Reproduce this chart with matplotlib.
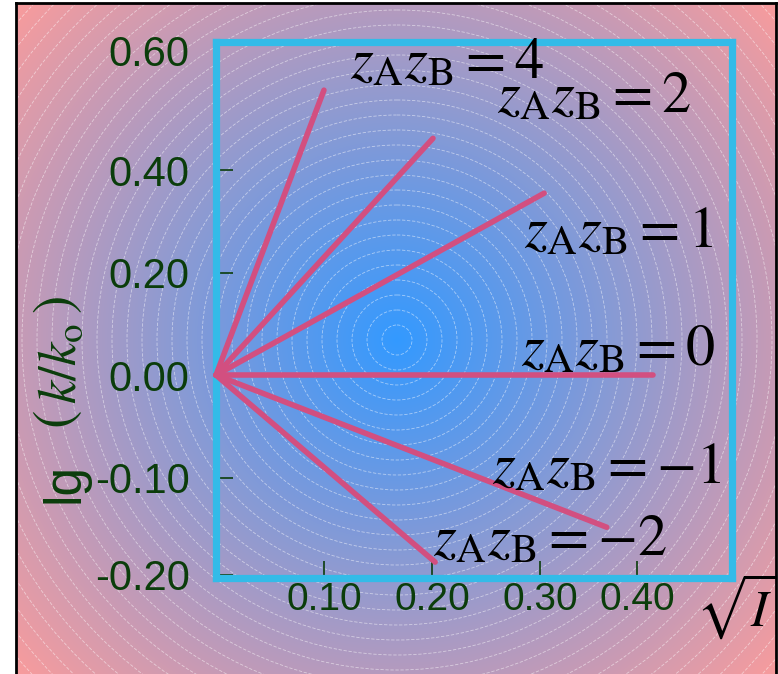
import numpy as np
import matplotlib.pyplot as plt
from matplotlib.patches import Circle
from matplotlib.lines import Line2D

plt.rcParams['mathtext.fontset'] = 'stix'

W, H = 778, 674

# end points of the lg(k/k0) vs sqrt(I) lines, one per charge product
z_products = [4, 2, 1, 0, -1, -2]
x_end = [0.100, 0.201, 0.304, 0.405, 0.362, 0.203]
y_end = [0.556, 0.462, 0.355, 0.0, -0.297, -0.365]

# where each "zAzB = n" caption sits (left edge, baseline)
label_x = [0.124, 0.260, 0.285, 0.283, 0.256, 0.201]
label_y = [0.580, 0.513, 0.250, 0.0195, -0.211, -0.351]

x_tick_pos = [0.10, 0.20, 0.30, 0.39]
x_tick_labels = ['0.10', '0.20', '0.30', '0.40']
y_tick_pos = [-0.39, -0.2, 0.0, 0.2, 0.4, 0.634]
y_tick_labels = ['-0.20', '-0.10', '0.00', '0.20', '0.40', '0.60']

green = '#0b3d0b'
line_color = '#d24f80'
frame_color = '#33bbe8'


def fx(px):
    return px / W


def fy(py):
    return 1 - py / H


fig = plt.figure(figsize=(W / 100, H / 100), dpi=100)

# radial blue -> salmon backdrop with dashed rings
bg = fig.add_axes([fx(16), 0, (776 - 16) / W, (674 - 3) / H])
yy, xx = np.mgrid[3:674, 16:776] + 0.5
r = np.hypot(xx - 397, yy - 340)
t = np.clip(r / 510, 0, 1)[..., None]
inner = np.array([0.20, 0.60, 1.0])
outer = np.array([0.98, 0.61, 0.61])
bg.imshow(inner * (1 - t) + outer * t, extent=(16, 776, 674, 3),
          aspect='auto', interpolation='bilinear')
for rad in np.arange(15, 540, 15):
    bg.add_patch(Circle((397, 340), rad, fill=False, ec='white', lw=0.6,
                        ls=(0, (4, 2)), alpha=0.5))
bg.set_xlim(16, 776)
bg.set_ylim(674, 3)
bg.axis('off')

# black frame round the picture (no bottom edge)
for xs, ys in [([16, 16], [3, 674]), ([16, 776], [3, 3]), ([776, 776], [3, 674])]:
    fig.add_artist(Line2D([fx(v) for v in xs], [fy(v) for v in ys],
                          color='black', lw=2, transform=fig.transFigure))

ax = fig.add_axes([fx(216), fy(578), (732 - 216) / W, (578 - 42) / H])
ax.set_facecolor('none')
ax.set_xlim(0, 0.478)
ax.set_ylim(-0.396, 0.650)
for s in ax.spines.values():
    s.set_color(frame_color)
    s.set_linewidth(5.2)
    s.set_capstyle('projecting')

for z, xe, ye in zip(z_products, x_end, y_end):
    ax.plot([0, xe], [0, ye], color=line_color, lw=4,
            solid_capstyle='round', zorder=3, clip_on=False)

for z, lx, ly in zip(z_products, label_x, label_y):
    ax.text(lx, ly, r'$z_{\mathrm{A}}z_{\mathrm{B}}=%d$' % z, fontsize=42,
            ha='left', va='baseline', color='black', zorder=4)

ax.set_xticks(x_tick_pos)
ax.set_xticklabels(x_tick_labels, family='Liberation Sans', fontsize=28)
ax.set_yticks(y_tick_pos)
ax.set_yticklabels(y_tick_labels, family='Liberation Sans', fontsize=30)
ax.tick_params(direction='in', length=12, width=1.2, color=green,
               labelcolor=green)
ax.tick_params(axis='x', pad=3)
ax.tick_params(axis='y', pad=19)
ax.yaxis.get_major_ticks()[-1].tick1line.set_visible(False)

# y axis title: lg（k/ko）
fig.text(fx(65), fy(483), 'lg', rotation=90, ha='center', va='center',
         fontsize=37, color=green, family='Liberation Sans')
fig.text(fx(57), fy(420), r'$($', rotation=90, ha='center', va='center',
         fontsize=40, color=green)
fig.text(fx(61), fy(364), r'$k/k_{\mathrm{o}}$', rotation=90, ha='center',
         va='center', fontsize=38, color=green)
fig.text(fx(57), fy(305), r'$)$', rotation=90, ha='center', va='center',
         fontsize=40, color=green)

fig.text(fx(696), fy(606), r'$\sqrt{I}$', ha='left', va='center',
         fontsize=37, color='black')

fig.savefig('out.png', dpi=100)
